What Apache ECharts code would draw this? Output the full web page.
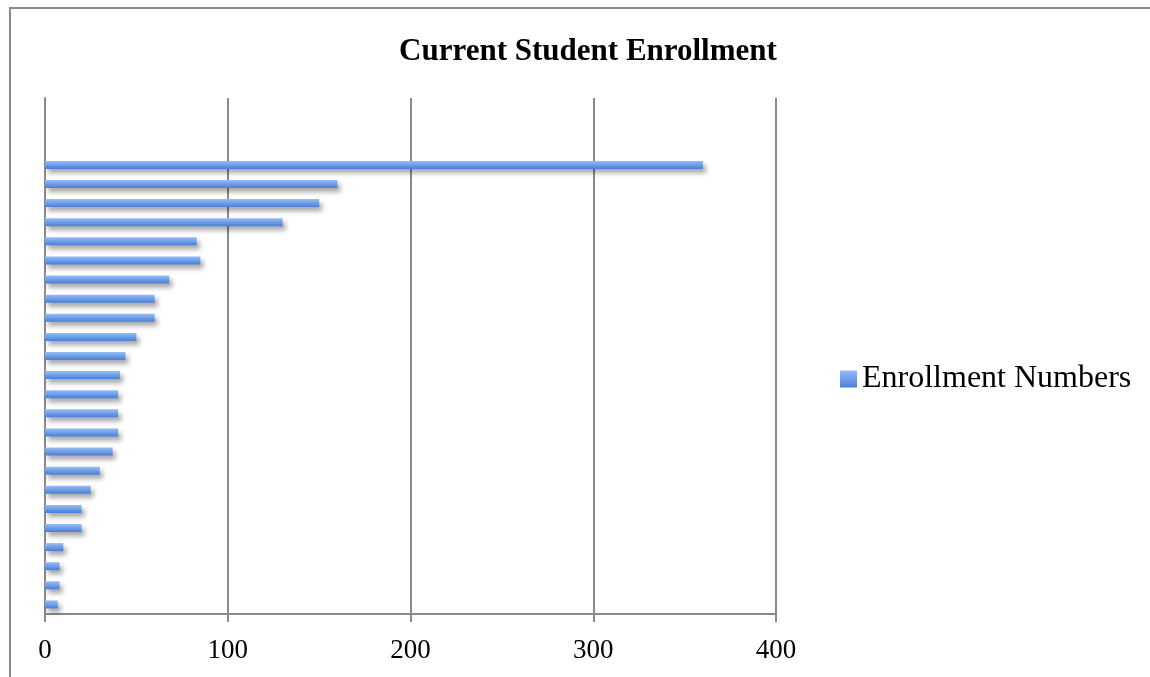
<!DOCTYPE html>
<html>
<head>
<meta charset="utf-8">
<script src="https://cdn.jsdelivr.net/npm/echarts@6/dist/echarts.min.js"></script>
<style>html,body{margin:0;padding:0;background:#fff}#c{width:1150px;height:677px}</style>
</head>
<body>
<div id="c"></div>
<script>
const titleText = 'Current Student Enrollment';
const seriesName = 'Enrollment Numbers';
const categories = ['', '', '', 'C1','C2','C3','C4','C5','C6','C7','C8','C9','C10','C11','C12','C13','C14','C15','C16','C17','C18','C19','C20','C21','C22','C23','C24'];
const values = [null, null, null, 360, 160, 150, 130, 83, 85, 68, 60, 60, 50, 44, 41, 40, 40, 40, 37, 30, 25, 20, 20, 10, 8, 8, 7];
const xTicks = [0, 100, 200, 300, 400];

const chart = echarts.init(document.getElementById('c'));
const serif = '"Liberation Serif", "DejaVu Serif", serif';
const barGrad = () => new echarts.graphic.LinearGradient(0,0,0,1,[{offset:0,color:'#96bcf9'},{offset:1,color:'#4a7fd6'}]);
chart.setOption({
  animation: false,
  backgroundColor: '#fff',
  graphic: [{
    type: 'polyline', silent: true,
    shape: { points: [[10, 677], [10, 8], [1150, 8]] },
    style: { stroke: '#8a8a8a', lineWidth: 2, fill: null }
  }],
  title: {
    text: titleText, left: 583, top: 31, textAlign: 'center',
    textStyle: { fontFamily: serif, fontWeight: 'bold', fontSize: 31, color: '#000' }
  },
  legend: {
    left: 835, top: 358, icon: 'rect', itemWidth: 17, itemHeight: 17, itemGap: 6,
    textStyle: { fontFamily: serif, fontSize: 32, color: '#000' },
    data: [{ name: seriesName, itemStyle: { color: barGrad() } }]
  },
  grid: { left: 45, right: 374, top: 98, bottom: 63, containLabel: false },
  xAxis: {
    type: 'value', min: 0, max: 400, interval: 100,
    axisLine: { show: true, lineStyle: { color: '#8a8a8a', width: 2 } },
    axisTick: { show: true, length: 8, lineStyle: { color: '#8a8a8a', width: 2 } },
    splitLine: { show: true, lineStyle: { color: '#8a8a8a', width: 2 } },
    axisLabel: { margin: 23, fontFamily: serif, fontSize: 27, color: '#000',
      formatter: v => xTicks.includes(v) ? String(v) : '' }
  },
  yAxis: {
    type: 'category', data: categories, inverse: true,
    axisLine: { show: true, lineStyle: { color: '#8a8a8a', width: 2 } },
    axisTick: { show: false }, axisLabel: { show: false }, splitLine: { show: false }
  },
  series: [{
    name: seriesName, type: 'bar', data: values, barWidth: 8,
    itemStyle: {
      color: barGrad(),
      shadowColor: 'rgba(0,0,0,0.35)', shadowBlur: 5, shadowOffsetX: 3, shadowOffsetY: 4
    }
  }]
});
</script>
</body>
</html>
